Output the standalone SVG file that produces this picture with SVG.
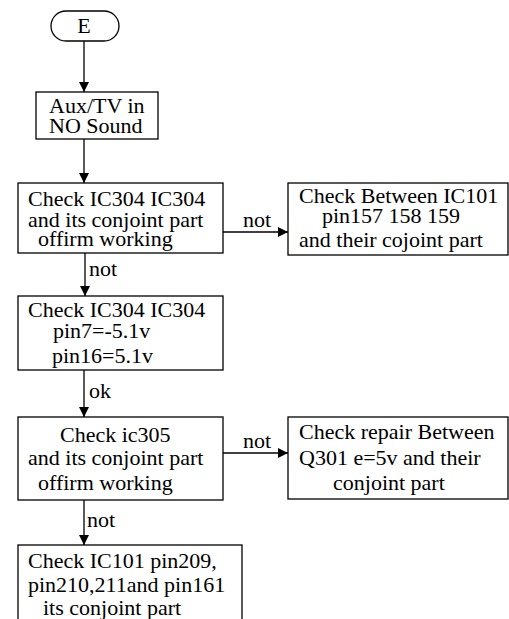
<svg xmlns="http://www.w3.org/2000/svg" width="509" height="619" viewBox="0 0 509 619">
<defs>
<style>
.box{fill:#fff;stroke:#000;stroke-width:1.3}
.c{fill:none;stroke:#000;stroke-width:1.3}
</style>
<marker id="ah" markerUnits="userSpaceOnUse" markerWidth="11" markerHeight="11" refX="10" refY="5" orient="auto">
<path d="M0,0 L10,5 L0,10 z" fill="#000"/>
</marker>
</defs>
<rect width="509" height="619" fill="#fff"/>
<g font-family="'Liberation Serif', 'Times New Roman', serif" font-size="22" fill="#000">
<g id="connectors">
<line class="c" x1="84" y1="41" x2="84" y2="92" marker-end="url(#ah)"/>
<line class="c" x1="84" y1="139" x2="84" y2="183" marker-end="url(#ah)"/>
<line class="c" x1="223" y1="232" x2="288" y2="232" marker-end="url(#ah)"/>
<line class="c" x1="85" y1="253" x2="85" y2="296" marker-end="url(#ah)"/>
<line class="c" x1="84" y1="370" x2="84" y2="417" marker-end="url(#ah)"/>
<line class="c" x1="223" y1="453" x2="288" y2="453" marker-end="url(#ah)"/>
<line class="c" x1="84" y1="500" x2="84" y2="545" marker-end="url(#ah)"/>
<text x="243" y="227">not</text>
<text x="89" y="276">not</text>
<text x="89" y="398">ok</text>
<text x="243" y="448">not</text>
<text x="87" y="527">not</text>
</g>
<g id="start">
<rect class="box" x="51" y="11" width="68" height="30" rx="15"/>
<text x="84" y="33" text-anchor="middle">E</text>
</g>
<g id="aux">
<rect class="box" x="36" y="92" width="122" height="47"/>
<text x="49" y="113">Aux/TV in</text>
<text x="49" y="133">NO Sound</text>
</g>
<g id="check1">
<rect class="box" x="18" y="183" width="205" height="70"/>
<text x="28" y="206">Check IC304 IC304</text>
<text x="28" y="227">and its conjoint part</text>
<text x="38" y="246">offirm working</text>
</g>
<g id="between1">
<rect class="box" x="288" y="183" width="220" height="72"/>
<text x="299" y="203">Check Between IC101</text>
<text x="322" y="223">pin157 158 159</text>
<text x="299" y="247">and their cojoint part</text>
</g>
<g id="check2">
<rect class="box" x="18" y="296" width="205" height="74"/>
<text x="28" y="317">Check IC304 IC304</text>
<text x="53" y="338">pin7=-5.1v</text>
<text x="52" y="363">pin16=5.1v</text>
</g>
<g id="check3">
<rect class="box" x="18" y="417" width="205" height="83"/>
<text x="60" y="442">Check ic305</text>
<text x="28" y="465">and its conjoint part</text>
<text x="38" y="490">offirm working</text>
</g>
<g id="repair">
<rect class="box" x="288" y="417" width="220" height="82"/>
<text x="299" y="439">Check repair Between</text>
<text x="299" y="465">Q301 e=5v and their</text>
<text x="333" y="490">conjoint part</text>
</g>
<g id="check4">
<rect class="box" x="18" y="545" width="224" height="90"/>
<text x="28" y="568">Check IC101 pin209,</text>
<text x="28" y="592">pin210,211and pin161</text>
<text x="43" y="615">its conjoint part</text>
</g>
</g>
</svg>
